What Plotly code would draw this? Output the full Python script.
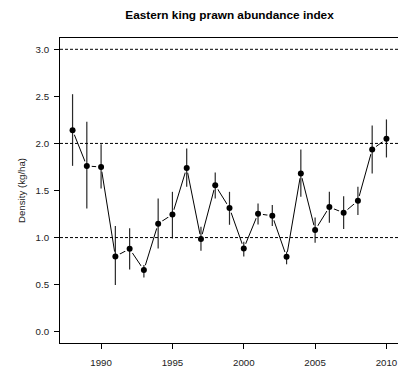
import plotly.graph_objects as go

years = list(range(1988, 2011))
density = [2.14, 1.76, 1.75, 0.80, 0.88, 0.655, 1.147, 1.246, 1.74, 0.984, 1.556, 1.313,
           0.885, 1.253, 1.231, 0.796, 1.681, 1.08, 1.324, 1.263, 1.391, 1.936, 2.049]
upper = [2.523, 2.23, 1.99, 1.122, 1.098, 0.708, 1.416, 1.486, 1.947, 1.115, 1.692, 1.486,
         0.955, 1.363, 1.345, 0.85, 1.936, 1.214, 1.486, 1.44, 1.539, 2.19, 2.255]
lower = [1.762, 1.31, 1.52, 0.496, 0.662, 0.577, 0.885, 0.99, 1.54, 0.86, 1.416, 1.136,
         0.80, 1.14, 1.122, 0.716, 1.433, 0.945, 1.157, 1.09, 1.239, 1.681, 1.851]
ref_levels = [1.0, 2.0, 3.0]
x_ticks = [1990, 1995, 2000, 2005, 2010]
y_ticks = [0.0, 0.5, 1.0, 1.5, 2.0, 2.5, 3.0]

err_plus = [u - d for u, d in zip(upper, density)]
err_minus = [d - l for d, l in zip(density, lower)]

FONT = "Liberation Sans, Arial, sans-serif"

fig = go.Figure()
# connecting line
fig.add_trace(go.Scatter(x=years, y=density, mode="lines",
                         line=dict(color="black", width=1), hoverinfo="skip"))
# white gaps around points (R type="b")
fig.add_trace(go.Scatter(x=years, y=density, mode="markers",
                         marker=dict(color="white", size=10, line=dict(width=0)),
                         hoverinfo="skip"))
# points with error bars
fig.add_trace(go.Scatter(x=years, y=density, mode="markers",
                         marker=dict(color="black", size=6, line=dict(width=0)),
                         error_y=dict(type="data", symmetric=False, array=err_plus,
                                      arrayminus=err_minus, color="#2a2a2a",
                                      thickness=1.2, width=0)))

for lv in ref_levels:
    fig.add_shape(type="line", xref="paper", x0=0, x1=1, yref="y", y0=lv, y1=lv,
                  line=dict(color="black", width=1, dash="3px,2px"), layer="above")

# the plot box's right edge sits just past the visible window, as in the reference
fig.update_layout(
    width=440, height=367,
    margin=dict(l=60, r=41, t=38, b=24, autoexpand=False),
    paper_bgcolor="white", plot_bgcolor="white",
    showlegend=False,
    hovermode=False,
    font=dict(family=FONT, size=9.7, color="#222"),
    title=dict(text="<b>Eastern king prawn abundance index</b>",
               font=dict(family=FONT, size=11.8, color="black"),
               x=0.5, xref="paper", xanchor="center",
               y=1 - 15 / 367, yref="container", yanchor="middle"),
)
fig.update_xaxes(range=[1987.12, 2010.88], tickvals=x_ticks,
                 ticktext=[str(t) for t in x_ticks],
                 showgrid=False, zeroline=False, automargin=False,
                 showline=True, mirror=True, linecolor="black", linewidth=1,
                 ticks="outside", ticklen=5, tickcolor="black", ticklabelstandoff=5,
                 ticklabeloverflow="allow")
fig.update_yaxes(range=[-0.12, 3.12], tickvals=y_ticks,
                 ticktext=[f"{t:.1f}" for t in y_ticks],
                 showgrid=False, zeroline=False, automargin=False,
                 showline=True, mirror=False, linecolor="black", linewidth=1,
                 ticks="outside", ticklen=5, tickcolor="black", ticklabelstandoff=3,
                 title=dict(text="Density (kg/ha)", standoff=8,
                            font=dict(family=FONT, size=9.7, color="#222")))

page_css = ("document.body.style.margin='0';"
            "document.body.style.overflow='hidden';"
            "document.documentElement.style.overflow='hidden';")
fig.write_html("out.html", post_script=page_css,
               config={"displayModeBar": False, "staticPlot": True})
